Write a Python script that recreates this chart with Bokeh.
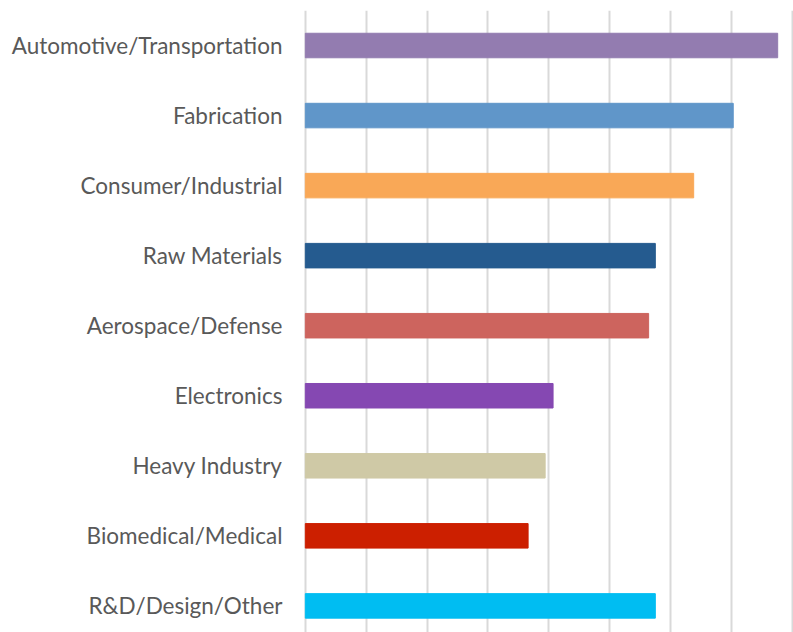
from bokeh.plotting import figure
from bokeh.models import ColumnDataSource, Range1d, SingleIntervalTicker, FixedTicker
from bokeh.embed import file_html
from bokeh.resources import INLINE

categories = ["Automotive/Transportation", "Fabrication", "Consumer/Industrial",
              "Raw Materials", "Aerospace/Defense", "Electronics", "Heavy Industry",
              "Biomedical/Medical", "R&D/Design/Other"]
values = [7.76, 7.03, 6.38, 5.75, 5.64, 4.07, 3.94, 3.66, 5.75]
colors = ["#937cb0", "#6096c9", "#f9a857", "#255b8f", "#cd645e",
          "#8548b2", "#cfc9a6", "#cc1f00", "#00bdf2"]

pos = list(range(len(categories)))
src = ColumnDataSource(dict(y=pos, v=values, c=colors, cat=categories))

p = figure(width=793, height=632, output_backend="svg", toolbar_location=None,
           x_range=Range1d(-0.03, 8.02), y_range=Range1d(8.38, -0.5),
           min_border_left=303, min_border_right=0, min_border_top=10, min_border_bottom=0,
           x_axis_location=None)
p.outline_line_color = None
p.hbar(y="y", left=0, right="v", height=0.35, color="c", source=src)

p.xgrid.ticker = SingleIntervalTicker(interval=1)
p.xgrid.grid_line_color = "#d9d9d9"
p.xgrid.grid_line_width = 2
p.ygrid.grid_line_color = None

ax = p.yaxis[0]
ax.ticker = FixedTicker(ticks=pos)
ax.major_label_overrides = {i: c for i, c in enumerate(categories)}
ax.axis_line_color = None
ax.major_tick_line_color = None
ax.minor_tick_line_color = None
ax.major_tick_out = 0
ax.major_tick_in = 0
ax.major_label_standoff = 21
ax.major_label_text_font = "Lato"
ax.major_label_text_font_size = "22.5px"
ax.major_label_text_color = "#595959"

open("out.html", "w").write(file_html(p, INLINE))
